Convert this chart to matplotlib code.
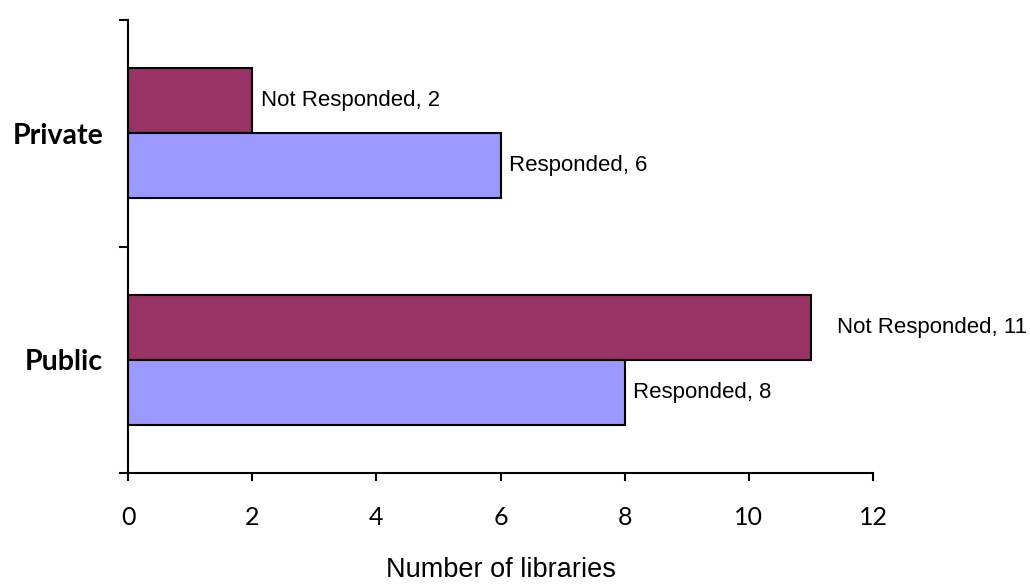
import matplotlib.pyplot as plt
import numpy as np

maroon = '#993366'
lavender = '#9999FF'

categories = ['Public', 'Private']
responded = [8, 6]
not_responded = [11, 2]
series_names = ['Responded', 'Not Responded']
x_ticks = [0, 2, 4, 6, 8, 10, 12]


if __name__ == "__main__":
    fig = plt.figure(figsize=(10.3, 5.84), dpi=100)
    ax = fig.add_axes([0.1243, 0.190, 0.7233, 0.7758])

    ind = np.arange(len(categories))
    h = 0.287

    # Not Responded sits above the centre line, Responded below it
    b_nr = ax.barh(ind + h / 2, not_responded, h, color=maroon,
                   edgecolor='black', linewidth=1.5, label=series_names[1])
    b_r = ax.barh(ind - h / 2, responded, h, color=lavender,
                  edgecolor='black', linewidth=1.5, label=series_names[0])

    # value labels "Series, value" to the right of each bar
    for bars, vals, name in ((b_nr, not_responded, series_names[1]),
                             (b_r, responded, series_names[0])):
        for bar, v in zip(bars, vals):
            pad = 19 if v == max(not_responded) else 6
            ax.annotate('%s, %d' % (name, v),
                        xy=(v, bar.get_y() + bar.get_height() / 2),
                        xytext=(pad, 0), textcoords='offset points',
                        ha='left', va='center', fontsize=16,
                        family='Liberation Sans')

    ax.set_xlim(0, 12)
    ax.set_ylim(-0.5, 1.5)

    ax.set_xticks(x_ticks)
    ax.set_xticklabels([str(t) for t in x_ticks], fontsize=18, family='Lato')
    ax.tick_params(axis='x', direction='out', length=6, width=1.5, pad=18)

    # category boundaries get tick marks, category names sit between them
    ax.set_yticks([-0.5, 0.5, 1.5])
    ax.set_yticklabels([])
    ax.set_yticks(ind, minor=True)
    ax.set_yticklabels(categories, minor=True, fontsize=20.5,
                       fontweight='bold', family='Lato')
    ax.tick_params(axis='y', which='major', direction='out', length=6.5, width=1.5)
    ax.tick_params(axis='y', which='minor', length=0, pad=18)

    ax.set_xlabel('Number of libraries', fontsize=19.5, family='Liberation Sans',
                  labelpad=20)

    for side in ('top', 'right'):
        ax.spines[side].set_visible(False)
    for side in ('left', 'bottom'):
        ax.spines[side].set_linewidth(1.5)

    plt.savefig('out.png', dpi=100)
